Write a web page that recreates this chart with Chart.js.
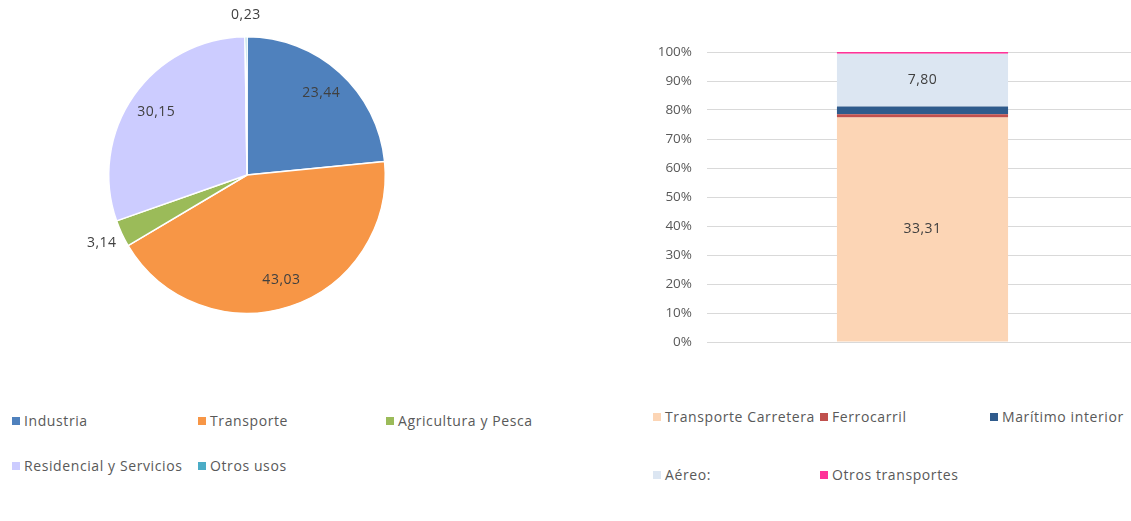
<!DOCTYPE html>
<html lang="es">
<head>
    <meta charset="UTF-8">
    <title>Consumo de energía final por sectores</title>
    <script src="https://cdn.jsdelivr.net/npm/chart.js"></script>
    <style>
        body {
            margin: 0;
            padding: 0;
            background: #ffffff;
            font-family: "Open Sans", Arial, sans-serif;
        }

        .page {
            position: relative;
            width: 1131px;
            height: 521px;
            overflow: hidden;
        }

        .chart-box {
            position: absolute;
            top: 0;
            height: 390px;
        }

        .legend-item {
            position: absolute;
            font-size: 14px;
            letter-spacing: 0.6px;
            color: #595959;
            white-space: nowrap;
            line-height: 16px;
        }

        .legend-item span {
            display: inline-block;
            width: 8px;
            height: 8px;
            margin-right: 4px;
            vertical-align: 1px;
        }
    </style>
</head>
<body>
<div class="page">
    <div class="chart-box" style="left:0;width:560px;">
        <canvas id="pieChart"></canvas>
    </div>
    <div class="chart-box" style="left:560px;width:580px;">
        <canvas id="barChart"></canvas>
    </div>
    <div id="pieLegend"></div>
    <div id="barLegend"></div>
</div>

<script>
    // Sectores (gráfico circular)
    const sectores = ["Industria", "Transporte", "Agricultura y Pesca", "Residencial y Servicios", "Otros usos"];
    const sectorValores = [23.44, 43.03, 3.14, 30.15, 0.23];
    const sectorColores = ["#4F81BD", "#F79646", "#9BBB59", "#CCCCFF", "#4BACC6"];

    // Modos de transporte (barra apilada 100%)
    const transportes = ["Transporte Carretera", "Ferrocarril", "Marítimo interior", "Aéreo:", "Otros transportes"];
    const transporteValores = [33.31, 0.47, 1.18, 7.80, 0.27];
    const transporteColores = ["#FCD5B5", "#C0504D", "#2F5B8C", "#DCE6F2", "#FF3399"];
    const yTicks = [0, 10, 20, 30, 40, 50, 60, 70, 80, 90, 100];

    const fmt = v => v.toFixed(2).replace(".", ",");
    const totalTransporte = transporteValores.reduce((a, b) => a + b, 0);
    const labelFont = "14px 'Open Sans', Arial, sans-serif";

    // etiquetas de datos del circular
    const pieLabels = {
        id: "pieLabels",
        afterDatasetsDraw(chart) {
            const ctx = chart.ctx;
            const meta = chart.getDatasetMeta(0);
            ctx.save();
            ctx.font = labelFont;
            ctx.letterSpacing = "0.5px";
            ctx.fillStyle = "#404040";
            ctx.textAlign = "center";
            ctx.textBaseline = "middle";
            meta.data.forEach((arc, i) => {
                const mid = (arc.startAngle + arc.endAngle) / 2;
                const v = sectorValores[i];
                const dist = v < 5 ? arc.outerRadius + 22 : arc.outerRadius * 0.8;
                const x = arc.x + Math.cos(mid) * dist;
                const y = arc.y + Math.sin(mid) * dist;
                ctx.fillText(fmt(v), x, y);
            });
            ctx.restore();
        }
    };

    new Chart(document.getElementById("pieChart"), {
        type: "pie",
        data: {
            labels: sectores,
            datasets: [{
                data: sectorValores,
                backgroundColor: sectorColores,
                borderColor: "#ffffff",
                borderWidth: 1.5
            }]
        },
        options: {
            responsive: true,
            maintainAspectRatio: false,
            animation: false,
            layout: { padding: { top: 36, bottom: 76, left: 108, right: 174 } },
            plugins: {
                legend: { display: false },
                tooltip: { enabled: false }
            }
        },
        plugins: [pieLabels]
    });

    // etiquetas de datos de la barra
    const barLabels = {
        id: "barLabels",
        afterDatasetsDraw(chart) {
            const ctx = chart.ctx;
            ctx.save();
            ctx.font = labelFont;
            ctx.letterSpacing = "0.5px";
            ctx.fillStyle = "#404040";
            ctx.textAlign = "center";
            ctx.textBaseline = "middle";
            chart.data.datasets.forEach((ds, i) => {
                if (transporteValores[i] < 5) return;
                const bar = chart.getDatasetMeta(i).data[0];
                ctx.fillText(fmt(transporteValores[i]), bar.x, (bar.y + bar.base) / 2);
            });
            ctx.restore();
        }
    };

    new Chart(document.getElementById("barChart"), {
        type: "bar",
        data: {
            labels: ["Transporte"],
            datasets: transportes.map((t, i) => ({
                label: t,
                data: [transporteValores[i] / totalTransporte * 100],
                backgroundColor: transporteColores[i],
                barPercentage: 0.397,
                categoryPercentage: 1
            }))
        },
        options: {
            responsive: true,
            maintainAspectRatio: false,
            animation: false,
            layout: { padding: { top: 52, bottom: 48, left: 0, right: 2 } },
            scales: {
                x: {
                    display: false,
                    stacked: true
                },
                y: {
                    stacked: true,
                    min: 0,
                    max: 100,
                    afterBuildTicks: scale => { scale.ticks = yTicks.map(v => ({ value: v })); },
                    afterFit: scale => { scale.width = 147; },
                    ticks: {
                        padding: 15,
                        color: "#595959",
                        font: { family: "'Open Sans', Arial, sans-serif", size: 13.5 },
                        callback: v => v + "%"
                    },
                    grid: { color: "#d9d9d9", drawTicks: false },
                    border: { display: false }
                }
            },
            plugins: {
                legend: { display: false },
                tooltip: { enabled: false }
            }
        },
        plugins: [barLabels]
    });

    // leyendas
    function buildLegend(id, names, colors, positions) {
        const box = document.getElementById(id);
        names.forEach((n, i) => {
            const el = document.createElement("div");
            el.className = "legend-item";
            el.style.left = positions[i][0] + "px";
            el.style.top = positions[i][1] + "px";
            el.innerHTML = `<span style="background:${colors[i]}"></span>${n}`;
            box.appendChild(el);
        });
    }

    buildLegend("pieLegend", sectores, sectorColores,
        [[12, 413], [198, 413], [386, 413], [12, 458], [198, 458]]);
    buildLegend("barLegend", transportes, transporteColores,
        [[653, 409], [820, 409], [990, 409], [653, 467], [820, 467]]);
</script>
</body>
</html>
